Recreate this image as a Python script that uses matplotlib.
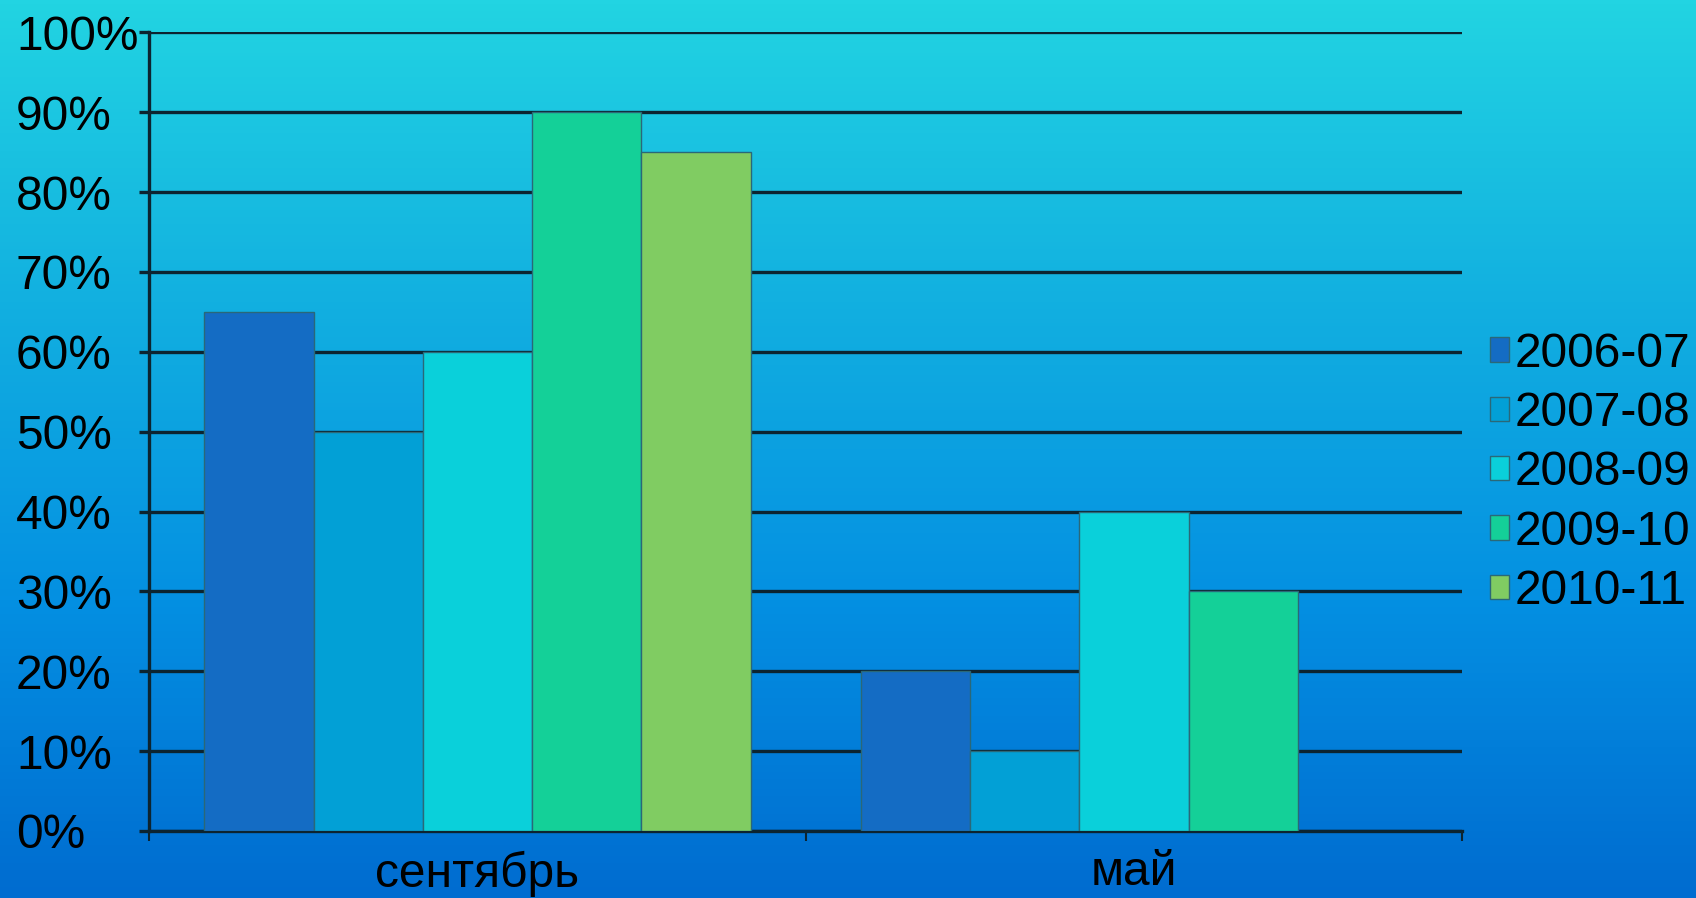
"""
Grouped bar chart: share by school year, September vs May.
"""
import numpy as np
import matplotlib.pyplot as plt
from matplotlib.colors import LinearSegmentedColormap
from matplotlib.ticker import PercentFormatter

# data
categories = ["сентябрь", "май"]
years = ["2006-07", "2007-08", "2008-09", "2009-10", "2010-11"]
values = {
    "2006-07": [65, 20],
    "2007-08": [50, 10],
    "2008-09": [60, 40],
    "2009-10": [90, 30],
    "2010-11": [85, np.nan],
}
colors = ["#146cc4", "#02a0d6", "#0ad0da", "#14d098", "#80cc62"]

plt.rcParams["font.family"] = ["Liberation Sans", "DejaVu Sans"]

fig = plt.figure(figsize=(16.96, 8.98), dpi=100)

# background gradient, cyan at top to blue at bottom
bg = fig.add_axes([0, 0, 1, 1], zorder=-10)
grad = LinearSegmentedColormap.from_list(
    "bg", ["#22d4e2", "#12b0e0", "#0490e2", "#006cd0"])
bg.imshow(np.linspace(0, 1, 256).reshape(-1, 1), aspect="auto", cmap=grad,
          extent=[0, 1, 0, 1])
bg.axis("off")

ax = fig.add_axes([0.088, 0.0747, 0.7742, 0.8892])
ax.patch.set_visible(False)

x = np.arange(len(categories))
width = 0.832 / len(years)
for i, (yr, col) in enumerate(zip(years, colors)):
    offs = (i - (len(years) - 1) / 2) * width
    ax.bar(x + offs, values[yr], width, color=col, edgecolor="#2a6878",
           linewidth=1.0, label=yr, zorder=3)

ax.set_xlim(-0.5, 1.5)
ax.set_ylim(0, 100)
ax.set_yticks(np.arange(0, 101, 10))
ax.yaxis.set_major_formatter(PercentFormatter(decimals=0))
ax.grid(axis="y", color="#0c2430", linewidth=2.4, zorder=1)
ax.set_axisbelow(True)

ax.set_xticks(x)
ax.set_xticklabels(categories)
ax.set_xticks([-0.5, 0.5, 1.5], minor=True)
ax.tick_params(axis="x", which="major", length=0, pad=14, labelsize=34.5)
ax.tick_params(axis="x", which="minor", length=7, width=1.5, color="#0c2430",
               direction="out")
# y labels are left-aligned at the figure edge
ax.tick_params(axis="y", length=7, width=2.4, color="#0c2430", pad=89,
               labelsize=34.5)
for lbl in ax.get_yticklabels():
    lbl.set_horizontalalignment("left")

for s in ["top", "right"]:
    ax.spines[s].set_visible(False)
for s in ["left", "bottom"]:
    ax.spines[s].set_color("#0c2430")
    ax.spines[s].set_linewidth(2.4)

leg = ax.legend(loc="center left", bbox_to_anchor=(1.003, 0.4485), frameon=False,
                fontsize=34.5, handlelength=0.4, handleheight=0.4,
                handletextpad=0.1, labelspacing=0.3, borderpad=0)

fig.savefig("out.png", dpi=100)
